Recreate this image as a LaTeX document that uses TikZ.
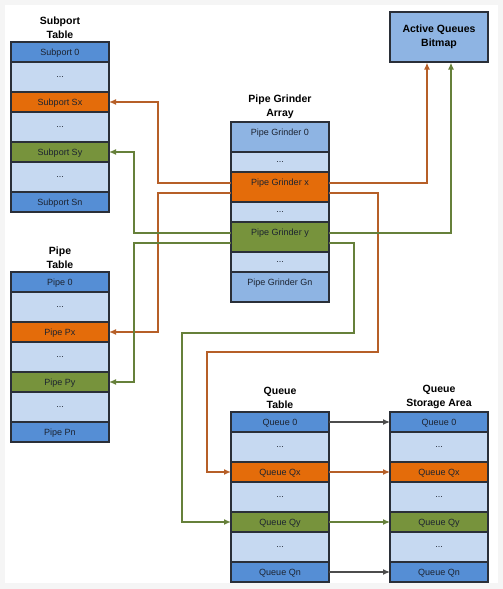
\documentclass[tikz,border=0pt]{standalone}
\usepackage{fontspec}
\setmainfont{Liberation Sans}
\usepackage{xcolor}
\usetikzlibrary{positioning,arrows.meta}

\definecolor{dkblue}{HTML}{558ED5}
\definecolor{ltblue}{HTML}{C6D9F1}
\definecolor{mdblue}{HTML}{8EB4E3}
\definecolor{orng}{HTML}{E46C0A}
\definecolor{grn}{HTML}{77933C}
\definecolor{ocon}{HTML}{B65F28}
\definecolor{gcon}{HTML}{66803A}
\definecolor{frame}{HTML}{2A2F38}
\definecolor{celltext}{HTML}{1C2330}

\newcommand{\rowdots}{...}

\tikzset{
  cell/.style={draw=frame, line width=1.1pt, outer sep=0pt, minimum width=98pt, inner xsep=0pt,
    inner ysep=0pt, text height=6.4pt, text depth=0pt, text=celltext, font=\fontsize{9}{10}\selectfont},
  dotcell/.style={cell, text height=1pt, text depth=0pt},
  toprow/.style={text height=13.2pt, text depth=16.8pt},
  title/.style={align=center, inner sep=0pt, font=\fontsize{10.5}{14}\selectfont\bfseries},
  link/.style={line width=1.5pt, -{Latex[length=7pt,width=6pt]}},
  qlink/.style={line width=1.2pt, draw=black!70, -{Latex[length=7pt,width=6pt]}}
}

\begin{document}
\begin{tikzpicture}[x=1pt, y=-1pt]
    \useasboundingbox (0,0) rectangle (503,589);
    \fill[black!4] (0,0) rectangle (503,589);
    \fill[white] (5,5) rectangle (498,583);

    % subport table
    \coordinate (subtop) at (60,42);
    \node[title, above=3pt of subtop] {Subport\\Table};
    \foreach \n/\lbl/\c/\h/\s [remember=\n as \p (initially top)] in
      {0/Subport 0/dkblue/20/cell, a/\rowdots/ltblue/30/dotcell, x/Subport Sx/orng/20/cell,
       b/\rowdots/ltblue/30/dotcell, y/Subport Sy/grn/20/cell, c/\rowdots/ltblue/30/dotcell,
       n/Subport Sn/dkblue/20/cell}
      \node[\s, fill=\c, minimum height=\h pt, below=0pt of sub\p] (sub\n) {\lbl};

    % pipe table
    \coordinate (piptop) at (60,272);
    \node[title, above=3pt of piptop] {Pipe\\Table};
    \foreach \n/\lbl/\c/\h/\s [remember=\n as \p (initially top)] in
      {0/Pipe 0/dkblue/20/cell, a/\rowdots/ltblue/30/dotcell, x/Pipe Px/orng/20/cell,
       b/\rowdots/ltblue/30/dotcell, y/Pipe Py/grn/20/cell, c/\rowdots/ltblue/30/dotcell,
       n/Pipe Pn/dkblue/20/cell}
      \node[\s, fill=\c, minimum height=\h pt, below=0pt of pip\p] (pip\n) {\lbl};

    % pipe grinder array
    \coordinate (gtop) at (280,122);
    \node[title, above=3pt of gtop] {Pipe Grinder\\Array};
    \node[cell, toprow, fill=mdblue, below=0pt of gtop] (g0) {Pipe Grinder 0};
    \node[dotcell, fill=ltblue, minimum height=20pt, below=0pt of g0] (ga) {\rowdots};
    \node[cell, toprow, fill=orng, below=0pt of ga] (gx) {Pipe Grinder x};
    \node[dotcell, fill=ltblue, minimum height=20pt, below=0pt of gx] (gb) {\rowdots};
    \node[cell, toprow, fill=grn, below=0pt of gb] (gy) {Pipe Grinder y};
    \node[dotcell, fill=ltblue, minimum height=20pt, below=0pt of gy] (gc) {\rowdots};
    \node[cell, toprow, fill=mdblue, below=0pt of gc] (gn) {Pipe Grinder Gn};

    % active queues bitmap
    \node[draw=frame, line width=1.1pt, fill=mdblue, minimum width=98pt, minimum height=50pt,
          title] (bm) at (439,37) {Active Queues\\Bitmap};

    % queue table
    \coordinate (qtop) at (280,412);
    \node[title, above=3pt of qtop] {Queue\\Table};
    \foreach \n/\lbl/\c/\h/\s [remember=\n as \p (initially top)] in
      {0/Queue 0/dkblue/20/cell, a/\rowdots/ltblue/30/dotcell, x/Queue Qx/orng/20/cell,
       b/\rowdots/ltblue/30/dotcell, y/Queue Qy/grn/20/cell, c/\rowdots/ltblue/30/dotcell,
       n/Queue Qn/dkblue/20/cell}
      \node[\s, fill=\c, minimum height=\h pt, below=0pt of q\p] (q\n) {\lbl};

    % queue storage area
    \coordinate (sttop) at (439,412);
    \node[title, above=3pt of sttop] {Queue\\Storage Area};
    \foreach \n/\lbl/\c/\h/\s [remember=\n as \p (initially top)] in
      {0/Queue 0/dkblue/20/cell, a/\rowdots/ltblue/30/dotcell, x/Queue Qx/orng/20/cell,
       b/\rowdots/ltblue/30/dotcell, y/Queue Qy/grn/20/cell, c/\rowdots/ltblue/30/dotcell,
       n/Queue Qn/dkblue/20/cell}
      \node[\s, fill=\c, minimum height=\h pt, below=0pt of st\p] (st\n) {\lbl};

    % grinder x links
    \draw[link, ocon] ([yshift=-11pt]gx.north west) -- ++(-73,0) |- (subx.east);
    \draw[link, ocon] ([yshift=-21pt]gx.north west) -- ++(-73,0) |- (pipx.east);
    \draw[link, ocon] ([yshift=-11pt]gx.north east) -| ([xshift=-12pt]bm.south);
    \draw[link, ocon] ([yshift=-21pt]gx.north east) -- ++(49,0) -- ++(0,159) -- ++(-171,0) |- (qx.west);

    % grinder y links
    \draw[link, gcon] ([yshift=-11pt]gy.north west) -- ++(-97,0) |- (suby.east);
    \draw[link, gcon] ([yshift=-21pt]gy.north west) -- ++(-97,0) |- (pipy.east);
    \draw[link, gcon] ([yshift=-11pt]gy.north east) -| ([xshift=12pt]bm.south);
    \draw[link, gcon] ([yshift=-21pt]gy.north east) -- ++(25,0) -- ++(0,90) -- ++(-172,0) |- (qy.west);

    % queue table to storage
    \draw[qlink] (q0.east) -- (st0.west);
    \draw[link, ocon, line width=1.2pt] (qx.east) -- (stx.west);
    \draw[link, gcon, line width=1.2pt] (qy.east) -- (sty.west);
    \draw[qlink] (qn.east) -- (stn.west);
\end{tikzpicture}
\end{document}
